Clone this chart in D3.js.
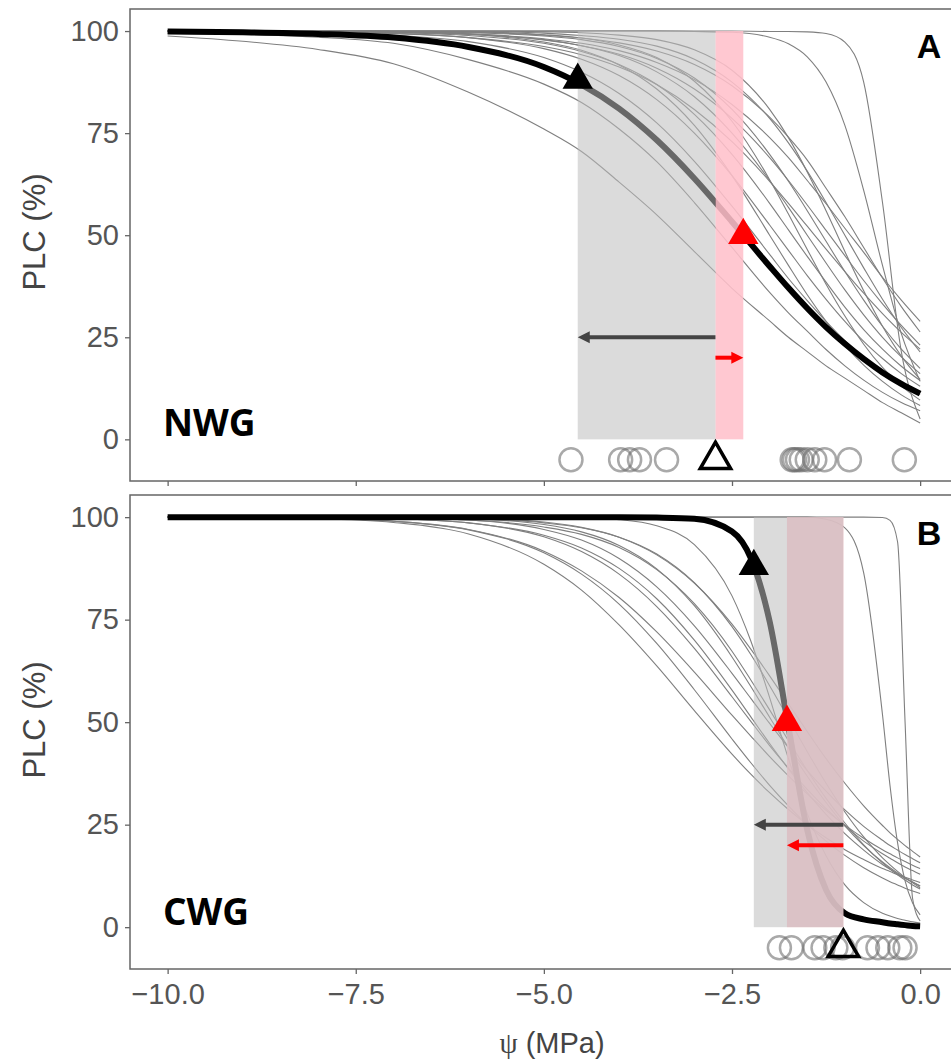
<!DOCTYPE html>
<html>
<head>
<meta charset="utf-8">
<script src="https://cdn.jsdelivr.net/npm/d3@7"></script>
<style>
  body { margin: 0; background: #fff; }
</style>
</head>
<body>
<div id="chart"></div>
<script>
// Vulnerability curves (PLC vs water potential) for two sites, NWG and CWG

// ---- Panel A : NWG ----
var psiGridA = [-10, -9, -8, -7, -6, -5, -4.5, -4, -3.5, -3, -2.5, -2, -1.75, -1.5, -1.25, -1, -0.75, -0.5, -0.25, 0];
var meanPlcA = [99.9, 99.7, 99.3, 98.4, 96.1, 91.2, 86.9, 81, 73.3, 63.9, 53.3, 42.4, 37.1, 32.1, 27.5, 23.4, 19.7, 16.4, 13.6, 11.2];
var treePlcA = [
  [100, 100, 100, 100, 100, 100, 100, 100, 100, 100, 100, 99.9, 99.9, 99.8, 99.4, 97.3, 87.5, 58, 21.5, 5],
  [100, 100, 100, 100, 100, 100, 100, 100, 100, 99.9, 99.7, 98.5, 96.9, 93.7, 87.5, 76.9, 61, 42.6, 25.9, 14.2],
  [100, 100, 99.9, 99.7, 99.3, 98.1, 97, 95.2, 92.3, 88.1, 82, 73.9, 69, 63.4, 57.7, 51.7, 45.8, 39.7, 34.1, 28.9],
  [100, 100, 100, 100, 99.9, 99.5, 98.9, 98, 96.3, 93.1, 87.5, 78.6, 72.6, 65.7, 58, 50, 42, 34.3, 27.4, 21.4],
  [100, 100, 100, 99.9, 99.6, 98.8, 97.9, 96.2, 93.3, 88.5, 80.8, 69.8, 63.2, 56, 48.5, 41.1, 34.1, 27.7, 22.1, 17.4],
  [100, 100, 99.9, 99.8, 99.3, 97.9, 96.4, 94, 90, 83.9, 75, 63.4, 56.8, 50, 43.2, 36.6, 30.5, 25, 20.2, 16.1],
  [100, 100, 99.9, 99.6, 98.9, 97, 95, 91.8, 86.9, 79.6, 69.8, 57.8, 51.3, 44.8, 38.5, 32.4, 26.9, 22.1, 17.9, 14.4],
  [100, 100, 100, 99.9, 99.8, 99.1, 98.3, 96.6, 93.5, 87.7, 77.9, 63.6, 55.2, 46.5, 38, 30.2, 23.3, 17.6, 13.1, 9.6],
  [100, 99.9, 99.8, 99.4, 98.4, 95.7, 93.1, 89.1, 83.2, 75, 64.6, 52.5, 46.3, 40.1, 34.3, 28.9, 24, 19.8, 16.1, 13],
  [100, 100, 99.9, 99.8, 99.2, 97.3, 95.3, 91.7, 85.8, 76.9, 64.6, 50, 42.6, 35.4, 28.9, 23.1, 18.2, 14.2, 10.9, 8.3],
  [100, 100, 99.9, 99.7, 99.2, 97.8, 96.4, 94.3, 90.9, 85.8, 78.6, 69, 63.4, 57.4, 51.2, 45, 38.9, 33.2, 27.9, 23.1],
  [99.9, 99.8, 99.6, 99, 97.4, 93.5, 89.9, 84.7, 77.5, 68.1, 57.1, 45.3, 39.4, 34, 28.9, 24.2, 20.1, 16.6, 13.6, 11],
  [100, 100, 100, 99.9, 99.7, 99, 98.3, 97.1, 95.1, 91.8, 86.6, 78.9, 74, 68.4, 61.5, 54.5, 47, 39.5, 32.5, 26.3],
  [98.8, 97.5, 95.5, 92, 85, 76, 70.5, 63, 55, 46, 37, 29, 25, 21.5, 18, 15, 12, 9, 6.5, 4],
  [99.5, 99.2, 98.5, 97, 93, 87, 82.5, 76, 68, 58, 47, 36, 31, 26.5, 22, 18, 14.5, 11.5, 9, 7],
  [100, 100, 100, 100, 100, 99.8, 99.6, 99, 97.9, 95.4, 90.4, 80.8, 73.9, 65.5, 56, 46, 36.4, 27.7, 20.4, 14.7],
  [100, 99.9, 99.7, 99.4, 98.4, 96.2, 94.2, 91.2, 86.9, 80.8, 72.9, 63.2, 57.8, 52.2, 46.6, 41.1, 35.8, 30.8, 26.2, 22.1]
];
var psiMinTreesA = [-4.64, -3.98, -3.86, -3.73, -3.37, -1.70, -1.67, -1.63, -1.58, -1.50, -1.40, -1.27, -0.94, -0.21];
var p12A = -4.55, p50A = -2.35, psiMinA = -2.72;

// ---- Panel B : CWG ----
var psiGridB = [-10, -8, -7, -6, -5, -4.5, -4, -3.5, -3, -2.5, -2.25, -2, -1.75, -1.5, -1.25, -1, -0.75, -0.5, -0.4, -0.3, -0.2, -0.1, 0];
var meanPlcB = [100, 100, 100, 100, 100, 100, 100, 99.9, 99.6, 96.5, 90, 74.6, 48.9, 23.7, 9.1, 3.4, 1.9, 1.2, 0.9, 0.7, 0.5, 0.3, 0.2];
var treePlcB = [
  [100, 99.9, 99.6, 98.6, 95.2, 91.6, 86.1, 78.2, 68, 56.2, 50.2, 44.3, 38.8, 33.6, 28.9, 24.7, 21, 17.9, 16.8, 15.7, 14.7, 13.8, 12.9],
  [100, 99.9, 99.6, 98.6, 95.6, 92.5, 87.5, 80.1, 70, 57.8, 51.3, 44.8, 38.6, 32.8, 27.5, 22.8, 18.8, 15.3, 14.1, 13, 11.9, 11, 10.1],
  [100, 100, 99.9, 99.6, 98.2, 96.4, 93.1, 87.4, 78.4, 65.9, 58.7, 51.2, 43.8, 36.8, 30.4, 24.7, 19.9, 15.9, 14.5, 13.2, 12, 11, 10],
  [100, 99.7, 99, 97, 91.7, 86.9, 80.4, 72, 62.2, 51.7, 46.6, 41.6, 36.9, 32.5, 28.5, 24.9, 21.7, 18.9, 17.9, 16.9, 16, 15.1, 14.3],
  [100, 99.9, 99.8, 99.3, 97.6, 95.8, 92.6, 87.2, 78.9, 67.3, 60.3, 53, 45.5, 38.2, 31.4, 25.4, 20.1, 15.7, 14.2, 12.8, 11.5, 10.3, 9.3],
  [100, 99.6, 98.7, 95.9, 88.5, 82.2, 73.7, 63.7, 52.8, 42.2, 37.3, 32.8, 28.7, 25, 21.8, 18.9, 16.5, 14.3, 13.6, 12.8, 12.2, 11.5, 10.9],
  [100, 100, 99.9, 99.6, 98.6, 97.4, 95.1, 91, 84, 73.3, 66.5, 58.9, 50.9, 42.8, 35.1, 28.1, 22, 16.9, 15.2, 13.6, 12.1, 10.8, 9.6],
  [100, 100, 99.8, 99.3, 97, 94.4, 89.9, 83, 73.5, 61.9, 55.8, 49.7, 43.8, 38.2, 33.2, 28.6, 24.6, 21.2, 19.9, 18.8, 17.7, 16.7, 15.7],
  [100, 99.7, 99, 96.9, 91.3, 86.1, 78.8, 69.2, 57.9, 45.9, 40.1, 34.6, 29.6, 25, 21, 17.5, 14.5, 12, 11.1, 10.3, 9.5, 8.8, 8.2],
  [100, 100, 99.9, 99.7, 98.8, 97.5, 95.1, 90.8, 83.9, 73.9, 67.8, 61.3, 54.5, 47.7, 41.1, 35.1, 29.6, 24.8, 23, 21.4, 19.9, 18.5, 17.1],
  [100, 100, 100, 100, 99.9, 99.8, 99.4, 97.9, 93.3, 80.8, 69.8, 56, 41.1, 27.7, 17.4, 10.3, 6, 3.4, 2.7, 2.1, 1.7, 1.3, 1],
  [100, 100, 100, 100, 100, 100, 100, 100, 100, 100, 100, 100, 100, 100, 99.5, 97.4, 86.4, 51.8, 34.5, 20.6, 11.3, 5.9, 3],
  [100, 100, 100, 100, 100, 100, 100, 100, 100, 100, 100, 100, 100, 100, 100, 100, 100, 99.9, 99.2, 94, 50, 7, 1.5]
];
var psiMinTreesB = [-1.87, -1.71, -1.40, -1.29, -1.12, -1.03, -0.70, -0.56, -0.43, -0.27, -0.20];
var p12B = -2.21, p50B = -1.77, psiMinB = -1.02;

// axis ticks
var xTicks = [-10, -7.5, -5, -2.5, 0];
var yTicks = [0, 25, 50, 75, 100];

var svgWidth = 951;
var svgHeight = 1063;
var plotLeft = 130, plotRight = 957.75;
var labelFont = "'Liberation Sans', Arial, sans-serif";

var svg = d3.select("#chart").append("svg")
    .attr("width", svgWidth)
    .attr("height", svgHeight);

svg.append("rect").attr("width", svgWidth).attr("height", svgHeight).attr("fill", "#fff");

var xScale = d3.scaleLinear().domain([-10.5, 0.5]).range([plotLeft, plotRight]);

var panels = [
  {top: 9, bottom: 481, grid: psiGridA, mean: meanPlcA, trees: treePlcA, dots: psiMinTreesA,
   p12: p12A, p50: p50A, psiMin: psiMinA, site: "NWG", letter: "A", siteY: 436, letterY: 58, titleY: 232, xLabels: false},
  {top: 495, bottom: 969, grid: psiGridB, mean: meanPlcB, trees: treePlcB, dots: psiMinTreesB,
   p12: p12B, p50: p50B, psiMin: psiMinB, site: "CWG", letter: "B", siteY: 925, letterY: 545, titleY: 720, xLabels: true}
];

function drawArrow(g, x1, x2, y, color) {
  var dir = x2 > x1 ? 1 : -1;
  var head = 12, half = 6;
  g.append("line")
      .attr("x1", x1).attr("x2", x2 - dir * head * 0.8)
      .attr("y1", y).attr("y2", y)
      .attr("stroke", color)
      .attr("stroke-width", 4);
  g.append("path")
      .attr("d", `M${x2},${y} L${x2 - dir * head},${y - half} L${x2 - dir * head},${y + half} Z`)
      .attr("fill", color);
}

function drawPanel(p) {
  var yScale = d3.scaleLinear().domain([-10.2, 105.4]).range([p.bottom, p.top]);
  var g = svg.append("g");

  var line = d3.line()
      .x((d, i) => xScale(p.grid[i]))
      .y(d => yScale(d))
      .curve(d3.curveMonotoneX);

  // individual tree curves
  g.selectAll("path.tree")
      .data(p.trees)
      .enter()
      .append("path")
      .attr("class", "tree")
      .attr("d", line)
      .attr("fill", "none")
      .attr("stroke", "#7f7f7f")
      .attr("stroke-width", 1.1);

  // site mean curve
  g.append("path")
      .datum(p.mean)
      .attr("d", line)
      .attr("fill", "none")
      .attr("stroke", "#000")
      .attr("stroke-width", 6);

  // safety margin bands
  var lo = Math.min(p.psiMin, p.p50), hi = Math.max(p.psiMin, p.p50);
  g.append("rect")
      .attr("x", xScale(lo))
      .attr("width", xScale(hi) - xScale(lo))
      .attr("y", yScale(100))
      .attr("height", yScale(0) - yScale(100))
      .attr("fill", "#ffc0cb")
      .attr("fill-opacity", 0.88);

  g.append("rect")
      .attr("x", xScale(p.p12))
      .attr("width", xScale(p.psiMin) - xScale(p.p12))
      .attr("y", yScale(100))
      .attr("height", yScale(0) - yScale(100))
      .attr("fill", "#bebebe")
      .attr("fill-opacity", 0.55);

  // arrows
  drawArrow(g, xScale(p.psiMin), xScale(p.p12), yScale(25), "#444");
  drawArrow(g, xScale(p.psiMin), xScale(p.p50), yScale(20), "#ff0000");

  // minimum water potential of each tree
  g.selectAll("circle.tree")
      .data(p.dots)
      .enter()
      .append("circle")
      .attr("class", "tree")
      .attr("cx", d => xScale(d))
      .attr("cy", yScale(-5))
      .attr("r", 11.5)
      .attr("fill", "none")
      .attr("stroke", "#707070")
      .attr("stroke-opacity", 0.6)
      .attr("stroke-width", 2.5);

  var tri = d3.symbol().type(d3.symbolTriangle).size(400);

  g.append("path")
      .attr("d", tri())
      .attr("transform", `translate(${xScale(p.psiMin)},${yScale(-5)})`)
      .attr("fill", "none")
      .attr("stroke", "#000")
      .attr("stroke-width", 3.5)
      .attr("stroke-linejoin", "miter");

  g.append("path")
      .attr("d", tri())
      .attr("transform", `translate(${xScale(p.p12)},${yScale(88)})`)
      .attr("fill", "#000");

  g.append("path")
      .attr("d", tri())
      .attr("transform", `translate(${xScale(p.p50)},${yScale(50)})`)
      .attr("fill", "#ff0000");

  // site and panel labels
  g.append("text")
      .attr("x", 163)
      .attr("y", p.siteY)
      .attr("font-family", "'Open Sans', sans-serif")
      .attr("font-weight", 700)
      .attr("font-size", "37px")
      .attr("fill", "#000")
      .text(p.site);

  g.append("text")
      .attr("x", 929)
      .attr("y", p.letterY)
      .attr("text-anchor", "middle")
      .attr("font-family", labelFont)
      .attr("font-weight", 700)
      .attr("font-size", "34px")
      .attr("fill", "#000")
      .text(p.letter);

  // panel border
  g.append("rect")
      .attr("x", plotLeft)
      .attr("y", p.top)
      .attr("width", plotRight - plotLeft)
      .attr("height", p.bottom - p.top)
      .attr("fill", "none")
      .attr("stroke", "#666")
      .attr("stroke-width", 1.5);

  // axes
  var yAxis = d3.axisLeft(yScale).tickValues(yTicks).tickSize(5).tickPadding(6);
  var yg = g.append("g").attr("transform", `translate(${plotLeft},0)`).call(yAxis);

  var xAxis = d3.axisBottom(xScale).tickValues(xTicks).tickSize(5).tickPadding(9)
      .tickFormat(p.xLabels ? d3.format(".1f") : "");
  var xg = g.append("g").attr("transform", `translate(0,${p.bottom})`).call(xAxis);

  [yg, xg].forEach(function(a) {
    a.select(".domain").remove();
    a.selectAll(".tick line").attr("stroke", "#666").attr("stroke-width", 1.3);
    a.selectAll(".tick text")
        .attr("fill", "#555")
        .attr("font-family", labelFont)
        .attr("font-size", "29px");
  });

  // y axis title
  g.append("text")
      .attr("transform", `translate(45,${p.titleY}) rotate(-90)`)
      .attr("text-anchor", "middle")
      .attr("font-family", labelFont)
      .attr("font-size", "31px")
      .attr("fill", "#444")
      .text("PLC (%)");
}

panels.forEach(drawPanel);

// x axis title
var xTitle = svg.append("text")
    .attr("x", 552)
    .attr("y", 1053)
    .attr("text-anchor", "middle")
    .attr("font-family", labelFont)
    .attr("font-size", "29px")
    .attr("fill", "#444");
xTitle.append("tspan").attr("font-family", "'Liberation Serif', serif").text("\u03C8");
xTitle.append("tspan").text(" (MPa)");
</script>
</body>
</html>
